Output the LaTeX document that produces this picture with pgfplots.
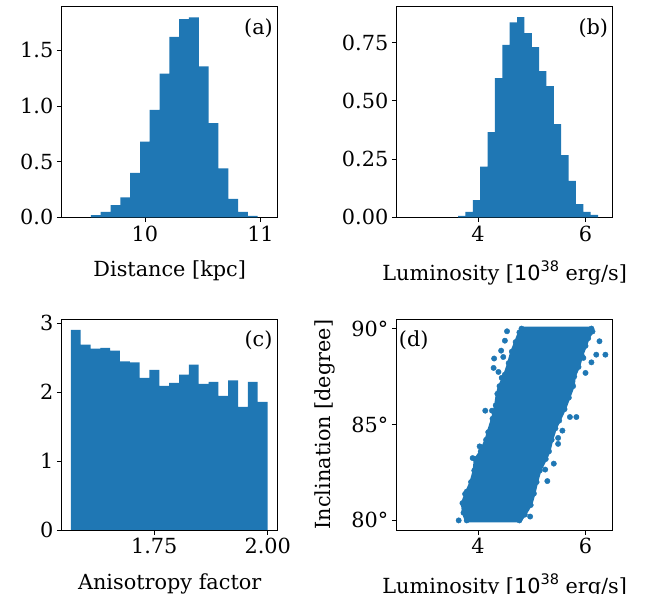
\documentclass[border=0pt]{standalone}
\usepackage{fontspec}
\setmainfont{DejaVu Serif}
\newfontfamily\dvsans{DejaVu Sans}
\usepackage{pgfplots}
\pgfplotsset{compat=1.18}
\definecolor{tabblue}{HTML}{1F77B4}
\newcommand\ff{\fontsize{20.8bp}{25bp}\selectfont}
\newcommand\lum{Luminosity [{\dvsans 10\raisebox{0.75ex}{\fontsize{14.5bp}{15bp}\selectfont 38}} erg/s]}

\begin{document}
\begin{tikzpicture}[font=\ff]
\useasboundingbox (0,0) rectangle (660bp,594bp);
\pgfplotsset{
  every axis/.append style={
    scale only axis, width=216bp, height=211bp, anchor=south west,
    axis line style={line width=0.8bp, black},
    tick style={line width=0.8bp, black},
    major tick length=4.9bp, tick align=outside,
    xtick pos=left, ytick pos=left, minor tick num=0,
    scaled ticks=false, clip=true,
    every tick label/.append style={font=\ff},
    every axis x label/.style={at={(axis description cs:0.5,0)}, anchor=base, yshift=-59.4bp, font=\ff},
    every axis y label/.style={at={(axis description cs:0,0.5)}, xshift=-66.7bp, rotate=90, anchor=base, font=\ff},
  },
  histbar/.style={const plot, fill=tabblue, draw=none},
}

% (a) Distance
\begin{axis}[at={(61.7bp,376.7bp)},
  xmin=9.279, xmax=11.149, ymin=0, ymax=1.895,
  xtick={10,11}, xticklabels={10,11},
  ytick={0,0.5,1,1.5}, yticklabels={0.0,0.5,1.0,1.5},
  xlabel={Distance [kpc]}]
\addplot[histbar] coordinates {(9.532,0)
(9.532,0.020) (9.617,0.048) (9.702,0.110) (9.787,0.180) (9.872,0.400)
(9.957,0.680) (10.041,0.965) (10.126,1.290) (10.211,1.620) (10.296,1.780)
(10.381,1.795) (10.466,1.356) (10.551,0.846) (10.636,0.440) (10.721,0.165)
(10.806,0.048) (10.890,0.012) (10.975,0.012) (10.975,0)} -- cycle;
\node[anchor=base east, inner sep=0pt] at (rel axis cs:1,1) [xshift=-4.7bp, yshift=-28bp] {(a)};
\end{axis}

% (b) Luminosity histogram
\begin{axis}[at={(396.7bp,376.7bp)},
  xmin=2.487, xmax=6.506, ymin=0, ymax=0.9057,
  xtick={4,6}, xticklabels={4,6},
  ytick={0,0.25,0.5,0.75}, yticklabels={0.00,0.25,0.50,0.75},
  xlabel={\lum}, xlabel style={yshift=-3.6bp}]
\addplot[histbar] coordinates {(3.630,0)
(3.630,0.006) (3.767,0.023) (3.904,0.074) (4.041,0.217) (4.178,0.366)
(4.315,0.597) (4.452,0.740) (4.589,0.837) (4.726,0.859) (4.863,0.790)
(5.000,0.730) (5.137,0.627) (5.274,0.563) (5.411,0.400) (5.548,0.267)
(5.685,0.156) (5.822,0.057) (5.959,0.023) (6.096,0.010) (6.233,0.010) (6.233,0)} -- cycle;
\node[anchor=base east, inner sep=0pt] at (rel axis cs:1,1) [xshift=-4.4bp, yshift=-28bp] {(b)};
\end{axis}

% (c) Anisotropy factor
\begin{axis}[at={(61.7bp,64bp)},
  xmin=1.5459, xmax=2.022, ymin=0, ymax=3.058,
  xtick={1.75,2.0}, xticklabels={1.75,2.00},
  ytick={0,1,2,3}, yticklabels={0,1,2,3},
  xlabel={Anisotropy factor}]
\addplot[histbar] coordinates {(1.5660,0)
(1.5660,2.900) (1.5877,2.685) (1.6094,2.627) (1.6310,2.641) (1.6527,2.598)
(1.6744,2.443) (1.6961,2.429) (1.7178,2.206) (1.7394,2.322) (1.7611,2.090)
(1.7828,2.133) (1.8045,2.250) (1.8262,2.395) (1.8478,2.119) (1.8695,2.148)
(1.8912,1.945) (1.9129,2.167) (1.9346,1.785) (1.9562,2.148) (1.9779,1.858)
(2.0000,1.858) (2.0000,0)} -- cycle;
\node[anchor=base east, inner sep=0pt] at (rel axis cs:1,1) [xshift=-5bp, yshift=-28bp] {(c)};
\end{axis}

% (d) Inclination vs luminosity
\begin{axis}[at={(396.7bp,64bp)},
  xmin=2.487, xmax=6.506, ymin=79.5, ymax=90.5,
  xtick={4,6}, xticklabels={4,6},
  ytick={80,85,90}, yticklabels={80°,85°,90°},
  xlabel={\lum}, xlabel style={yshift=-3.6bp},
  ylabel={Inclination [degree]}]
\addplot[fill=tabblue, draw=none] coordinates {
(3.76,79.9) (3.70,80.4) (3.68,80.9) (3.76,81.5) (3.84,82.0) (3.90,82.6)
(3.92,83.2) (4.02,83.6) (4.12,84.2) (4.16,84.6) (4.24,85.3) (4.30,86.0)
(4.33,86.6) (4.37,87.0) (4.47,87.6) (4.54,88.2) (4.60,88.8) (4.67,89.3)
(4.74,89.8) (4.78,90.1)
(6.14,90.1) (6.16,89.85) (6.08,89.5) (6.03,89.1) (5.96,88.6) (5.90,88.0)
(5.82,87.5) (5.80,87.0) (5.72,86.4) (5.64,85.8) (5.54,85.2) (5.47,84.8)
(5.40,84.2) (5.35,83.6) (5.29,83.2) (5.18,82.6) (5.12,82.0) (5.07,81.4)
(5.01,80.8) (4.90,80.3) (4.80,79.9)} -- cycle;
\addplot[only marks, mark=*, mark size=2.7bp, color=tabblue] coordinates {
(3.79,80.0) (3.73,80.4) (3.71,80.9) (3.79,81.5) (3.87,82.0) (3.93,82.6)
(3.95,83.2) (4.05,83.6) (4.15,84.2) (4.19,84.6) (4.27,85.3) (4.33,86.0)
(4.36,86.6) (4.40,87.0) (4.50,87.6) (4.57,88.2) (4.63,88.8) (4.70,89.3)
(4.77,89.8) (4.81,90.0)
(6.11,90.0) (6.13,89.85) (6.05,89.5) (6.00,89.1) (5.93,88.6) (5.87,88.0)
(5.79,87.5) (5.77,87.0) (5.69,86.4) (5.61,85.8) (5.51,85.2) (5.44,84.8)
(5.37,84.2) (5.32,83.6) (5.26,83.2) (5.15,82.6) (5.09,82.0) (5.04,81.4)
(4.98,80.8) (4.87,80.3) (4.77,80.0)
(4.54,89.86) (4.50,89.37) (4.43,88.85) (4.30,88.44) (4.47,88.52) (4.29,87.95)
(4.38,87.74) (4.44,87.43) (6.26,89.34) (6.20,88.64) (6.37,88.64) (6.11,88.24)
(6.00,87.69) (5.96,88.47) (4.135,85.72) (4.26,85.72) (5.71,85.39) (5.83,85.39)
(5.57,84.68) (5.49,84.30) (5.49,83.99) (4.03,83.86) (3.90,83.25) (5.41,82.96)
(5.25,82.65) (5.29,82.05) (3.64,80.0) (4.97,80.2) (3.76,81.38)};
\node[anchor=base west, inner sep=0pt] at (rel axis cs:0,1) [xshift=2bp, yshift=-27.5bp] {(d)};
\end{axis}
\end{tikzpicture}
\end{document}
